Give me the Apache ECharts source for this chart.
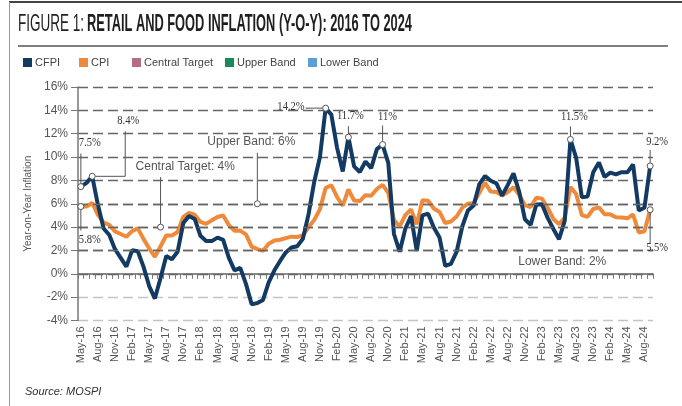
<!DOCTYPE html>
<html><head><meta charset="utf-8">
<script src="https://cdn.jsdelivr.net/npm/echarts@6/dist/echarts.min.js"></script>
<style>html,body{margin:0;padding:0;background:#fff}#c{width:682px;height:406px}</style>
</head><body><div id="c"></div>
<script>
// ---- data ----
const months = [
 'May-16','Jun-16','Jul-16','Aug-16','Sep-16','Oct-16','Nov-16','Dec-16',
 'Jan-17','Feb-17','Mar-17','Apr-17','May-17','Jun-17','Jul-17','Aug-17','Sep-17','Oct-17','Nov-17','Dec-17',
 'Jan-18','Feb-18','Mar-18','Apr-18','May-18','Jun-18','Jul-18','Aug-18','Sep-18','Oct-18','Nov-18','Dec-18',
 'Jan-19','Feb-19','Mar-19','Apr-19','May-19','Jun-19','Jul-19','Aug-19','Sep-19','Oct-19','Nov-19','Dec-19',
 'Jan-20','Feb-20','Mar-20','Apr-20','May-20','Jun-20','Jul-20','Aug-20','Sep-20','Oct-20','Nov-20','Dec-20',
 'Jan-21','Feb-21','Mar-21','Apr-21','May-21','Jun-21','Jul-21','Aug-21','Sep-21','Oct-21','Nov-21','Dec-21',
 'Jan-22','Feb-22','Mar-22','Apr-22','May-22','Jun-22','Jul-22','Aug-22','Sep-22','Oct-22','Nov-22','Dec-22',
 'Jan-23','Feb-23','Mar-23','Apr-23','May-23','Jun-23','Jul-23','Aug-23','Sep-23','Oct-23','Nov-23','Dec-23',
 'Jan-24','Feb-24','Mar-24','Apr-24','May-24','Jun-24','Jul-24','Aug-24','Sep-24'
];
const cfpi = [
 7.47, 7.79, 8.35, 5.91, 3.88, 3.32, 2.11, 1.37,
 0.61, 2.01, 1.93, 0.61, -1.05, -2.12, -0.36, 1.52, 1.25, 1.90, 4.35, 4.96,
 4.70, 3.26, 2.81, 2.80, 3.10, 2.91, 1.37, 0.29, 0.51, -0.86, -2.61, -2.51,
 -2.24, -0.73, 0.30, 1.10, 1.83, 2.25, 2.36, 2.99, 5.11, 7.89, 10.01, 14.19,
 13.63, 10.81, 8.76, 11.70, 9.20, 8.72, 9.62, 9.05, 10.68, 11.07, 9.50, 3.41,
 1.89, 3.87, 4.94, 1.96, 5.01, 5.15, 3.96, 3.11, 0.68, 0.85, 1.87, 4.05,
 5.43, 5.85, 7.68, 8.38, 7.97, 7.75, 6.69, 7.62, 8.60, 7.01, 4.67, 4.19,
 5.94, 5.95, 4.79, 3.84, 2.96, 4.55, 11.51, 9.94, 6.56, 6.61, 8.70, 9.53,
 8.30, 8.66, 8.52, 8.70, 8.69, 9.36, 5.42, 5.66, 9.24
];
const cpi = [
 5.76, 5.77, 6.07, 5.05, 4.39, 4.20, 3.63, 3.41,
 3.17, 3.65, 3.89, 2.99, 2.18, 1.46, 2.36, 3.28, 3.28, 3.58, 4.88, 5.21,
 5.07, 4.44, 4.28, 4.58, 4.87, 5.00, 4.17, 3.69, 3.70, 3.38, 2.33, 2.11,
 1.97, 2.57, 2.86, 2.92, 3.05, 3.18, 3.15, 3.28, 3.99, 4.62, 5.54, 7.35,
 7.59, 6.58, 5.84, 7.22, 6.27, 6.23, 6.73, 6.69, 7.27, 7.61, 6.93, 4.59,
 4.06, 5.03, 5.52, 4.23, 6.30, 6.26, 5.59, 5.30, 4.35, 4.48, 4.91, 5.66,
 6.01, 6.07, 6.95, 7.79, 7.04, 7.01, 6.71, 7.00, 7.41, 6.77, 5.88, 5.72,
 6.52, 6.44, 5.66, 4.70, 4.25, 4.81, 7.44, 6.83, 5.02, 4.87, 5.55, 5.69,
 5.10, 5.09, 4.85, 4.83, 4.75, 5.08, 3.54, 3.65, 5.49
];
const bandNames = ['Central Target', 'Upper Band', 'Lower Band'];
const bandValues = [4, 6, 2];
const yMin = -4, yMax = 16, yStep = 2;
const legendNames = ['CFPI', 'CPI', 'Central Target', 'Upper Band', 'Lower Band'];
// value call-outs: [series, month index, text]
const valueNotes = [
 ['CFPI', 0, '7.5%'], ['CPI', 0, '5.8%'], ['CFPI', 2, '8.4%'], ['CFPI', 43, '14.2%'],
 ['CFPI', 47, '11.7%'], ['CFPI', 53, '11%'], ['CFPI', 86, '11.5%'], ['CFPI', 100, '9.2%'], ['CPI', 100, '5.5%']
];
const bandNotes = ['Central Target: 4%', 'Upper Band: 6%', 'Lower Band: 2%'];
const bandNoteMonth = [14, 31, 77];

// ---- styles ----
const NARROW = '"Liberation Sans Narrow", "Liberation Sans", Arial, sans-serif';
const SERIF = '"Liberation Serif", "DejaVu Serif", serif';
const C_CFPI = '#133a62', C_CPI = '#ef8a3b';
const bandColors = ['#b66d82', '#1b8a59', '#5b9fd6'];
const legendLeft = [18, 74, 127, 220, 303];

const chart = echarts.init(document.getElementById('c'));
const gridColors = [];
for (let v = yMin; v <= yMax; v += yStep) gridColors.push(v < 0 ? '#c4c4c4' : '#666');

const seriesData = { CFPI: cfpi, CPI: cpi };
const option = {
  animation: false,
  backgroundColor: '#fff',
  grid: { left: 78, right: 29, top: 87, bottom: 85.5 },
  legend: legendNames.map((n, i) => ({
    data: [n], left: legendLeft[i], top: 52, icon: 'rect', itemWidth: 9, itemHeight: 9, itemGap: 4,
    selectedMode: false,
    textStyle: { fontFamily: NARROW, fontSize: 11, color: '#444', padding: [0, 0, 0, -2] }
  })),
  xAxis: [
    { type: 'category', data: months, boundaryGap: true, position: 'bottom',
      axisLine: { show: false, onZero: false }, axisTick: { show: false },
      axisLabel: { interval: 2, rotate: 90, fontSize: 11, color: '#555', fontFamily: '"Liberation Sans", Arial, sans-serif', margin: 6 },
      splitLine: { show: false } },
    { type: 'category', data: months, boundaryGap: true, position: 'bottom',
      axisLine: { show: true, onZero: true, lineStyle: { color: '#666', width: 1.5 } },
      axisTick: { show: true, interval: 0, length: 5, lineStyle: { color: '#777' } },
      axisLabel: { show: false }, splitLine: { show: false } }
  ],
  yAxis: {
    type: 'value', min: yMin, max: yMax, interval: yStep,
    axisLine: { show: true, lineStyle: { color: '#777', width: 1.5 } },
    axisTick: { show: true, length: 7, lineStyle: { color: '#777' } },
    axisLabel: { formatter: '{value}%', color: '#555', fontSize: 12, fontFamily: NARROW, margin: 10 },
    splitLine: { show: true, lineStyle: { type: [10, 5], color: gridColors, width: 1.3 } },
    name: 'Year-on-Year Inflation', nameLocation: 'middle', nameGap: 43,
    nameTextStyle: { fontFamily: NARROW, fontSize: 10, color: '#555' }
  },
  series: [
    { name: 'CPI', type: 'line', data: cpi, symbol: 'none', z: 3,
      lineStyle: { color: C_CPI, width: 4 }, itemStyle: { color: C_CPI } },
    { name: 'CFPI', type: 'line', data: cfpi, symbol: 'none', z: 4,
      lineStyle: { color: C_CFPI, width: 4 }, itemStyle: { color: C_CFPI } }
  ].concat(bandNames.map((n, i) => ({
    name: n, type: 'line', data: [], symbol: 'none', z: 1,
    itemStyle: { color: bandColors[i] }, lineStyle: { color: bandColors[i] },
    markLine: { silent: true, symbol: 'none', label: { show: false },
      lineStyle: { type: [10, 5], color: '#666', width: 1.3 }, data: [{ yAxis: bandValues[i] }] }
  })))
};
chart.setOption(option);

// ---- annotations (positions come from the chart's own scales) ----
const px = (i, v) => chart.convertToPixel({ xAxisIndex: 0, yAxisIndex: 0 }, [i, v]);
const g = [];
const LINE = '#555';
function seg(pts) { g.push({ type: 'polyline', shape: { points: pts }, style: { stroke: LINE, lineWidth: 1, fill: null }, z: 20 }); }
function dot(p) { g.push({ type: 'circle', shape: { cx: p[0], cy: p[1], r: 3 }, style: { fill: '#fff', stroke: '#555', lineWidth: 1 }, z: 22 }); }
function num(text, x, y, align) {
  g.push({ type: 'text', x: x, y: y, scaleX: 0.88, z: 23,
    style: { text: text, fontFamily: SERIF, fontSize: 12, fill: '#333', align: align || 'center', verticalAlign: 'middle', textAlign: align || 'center', textVerticalAlign: 'middle' } });
}
function band(text, x, y, align) {
  g.push({ type: 'text', x: x, y: y, z: 23,
    style: { text: text, fontFamily: NARROW, fontSize: 12, fill: '#555', align: align, verticalAlign: 'middle', textAlign: align, textVerticalAlign: 'middle' } });
}
// layout of each value call-out
const noteLayout = [
  { line: [[0, -3], [0, -33]], lab: [9, -44] },
  { line: [[0, 3], [0, 24]], lab: [9, 33] },
  { line: [[3, 0], [33, 0], [33, -45]], lab: [36, -55] },
  { line: [[-3, 0], [-20, 0]], lab: [-21, -1, 'right'] },
  { line: [[0, -3], [0, -11]], lab: [2, -21] },
  { line: [[0, -3], [0, -19]], lab: [5, -28] },
  { line: [[0, -3], [0, -13]], lab: [4, -23] },
  { line: [[0, -3], [0, -16]], lab: [7, -24] },
  { line: [[0, 3], [0, 34]], lab: [7, 38] }
];
valueNotes.forEach((n, k) => {
  const p = px(n[1], seriesData[n[0]][n[1]]);
  const L = noteLayout[k];
  seg(L.line.map(d => [p[0] + d[0], p[1] + d[1]]));
  dot(p);
  num(n[2], p[0] + L.lab[0], p[1] + L.lab[1], L.lab[2]);
});
// band call-outs
(function () {
  let p = px(bandNoteMonth[0], bandValues[0]);
  seg([[p[0], p[1] - 3], [p[0], p[1] - 50]]); dot(p); band(bandNotes[0], p[0] - 25, p[1] - 60, 'left');
  p = px(bandNoteMonth[1], bandValues[1]);
  seg([[p[0], p[1] - 3], [p[0], p[1] - 51]]); dot(p); band(bandNotes[1], p[0] - 6, p[1] - 62, 'center');
  p = px(bandNoteMonth[2], bandValues[2]);
  band(bandNotes[2], p[0] - 1, p[1] + 11, 'left');
})();

// title (condensed via horizontal scaling)
function measure(text, weight, size, fam) {
  const c = document.createElement('canvas').getContext('2d');
  c.font = weight + ' ' + size + 'px ' + fam;
  return c.measureText(text).width;
}
const T1 = 'FIGURE 1:', T2 = 'RETAIL AND FOOD INFLATION (Y-O-Y): 2016 TO 2024';
const TS = 24;
const w1 = measure(T1, 'normal', TS, NARROW), w2 = measure(T2, 'bold', TS, NARROW);
g.push({ type: 'text', x: 18, y: 24, scaleX: 66 / w1, z: 30,
  style: { text: T1, fontFamily: NARROW, fontSize: TS, fontWeight: 'normal', fill: '#222', align: 'left', verticalAlign: 'middle', textAlign: 'left', textVerticalAlign: 'middle' } });
g.push({ type: 'text', x: 87, y: 24, scaleX: 325 / w2, z: 30,
  style: { text: T2, fontFamily: NARROW, fontSize: TS, fontWeight: 'bold', fill: '#1e1e1e', align: 'left', verticalAlign: 'middle', textAlign: 'left', textVerticalAlign: 'middle' } });
g.push({ type: 'line', shape: { x1: 18, y1: 46, x2: 668, y2: 46 }, style: { stroke: '#555', lineWidth: 1.5 }, z: 30 });
// frame
g.push({ type: 'line', shape: { x1: 9, y1: 2, x2: 682, y2: 2 }, style: { stroke: '#444', lineWidth: 2 }, z: 30 });
g.push({ type: 'line', shape: { x1: 9.5, y1: 2, x2: 9.5, y2: 406 }, style: { stroke: '#999', lineWidth: 1 }, z: 30 });
// source
g.push({ type: 'text', x: 25, y: 392, z: 30,
  style: { text: 'Source: MOSPI', fontFamily: NARROW, fontSize: 11, fontStyle: 'italic', fill: '#333', align: 'left', verticalAlign: 'middle', textAlign: 'left', textVerticalAlign: 'middle' } });

chart.setOption({ graphic: g });
</script>
</body></html>
